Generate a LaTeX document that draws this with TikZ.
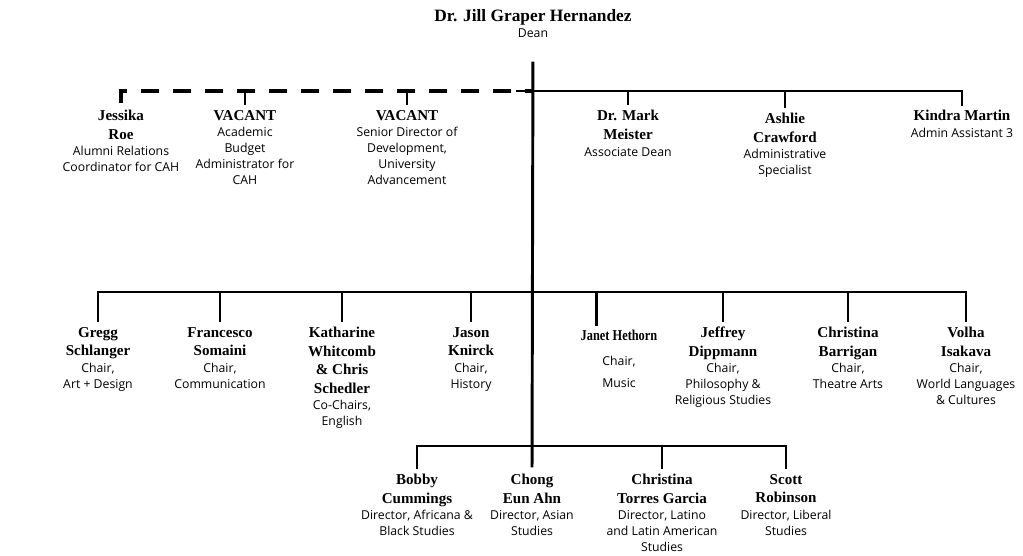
\documentclass[tikz,border=0pt]{standalone}
\usepackage{fontspec}
\setmainfont{Liberation Serif}
\newfontfamily\postfont{Open Sans}
\usetikzlibrary{positioning}
\tikzset{%
personnode/.style={align=center, inner sep=0pt, text depth=0pt, anchor=north, font=\bfseries\fontsize{11.3}{13.9}\selectfont},
postnode/.style={align=center, inner sep=0pt, font=\postfont\fontsize{9.2}{12}\selectfont},
bar/.style={draw=black, line width=2.2pt},
drop/.style={bar, shorten <=4pt},
vacantline/.style={draw=black, line width=3pt, dash pattern=on 13.5pt off 10.5pt, shorten <=5pt}
}
\begin{document}
\begin{tikzpicture}[x=0.75pt, y=-0.75pt]
	\useasboundingbox (0,0) rectangle (1023,556);
	% dean
	\node[personnode, font=\bfseries\fontsize{13}{15}\selectfont] (dean) at (533,9) {Dr. Jill Graper Hernandez};
	\node[postnode] (deanpost) [below=5pt of dean] {Dean};
	\coordinate (top) at (533,91);
	\coordinate (mid) at (533,292);
	\coordinate (low) at (533,446);

	% staff row
	\node[personnode] (jessika) at (121,110) {Jessika\\Roe};
	\node[postnode] (jessikapost) [below=5pt of jessika] {Alumni Relations\\Coordinator for CAH};
	\node[personnode] (budget) at (245,110) {VACANT};
	\node[postnode] (budgetpost) [below=5pt of budget] {Academic\\Budget\\Administrator for\\CAH};
	\node[personnode] (devel) at (407,110) {VACANT};
	\node[postnode] (develpost) [below=5pt of devel] {Senior Director of\\Development,\\University\\Advancement};
	\node[personnode] (mark) at (628,110) {Dr. Mark\\Meister};
	\node[postnode] (markpost) [below=6pt of mark] {Associate Dean};
	\node[personnode] (ashlie) at (785,113) {Ashlie\\Crawford};
	\node[postnode] (ashliepost) [below=5pt of ashlie] {Administrative\\Specialist};
	\node[personnode] (kindra) at (962,110) {Kindra Martin};
	\node[postnode] (kindrapost) [below=5pt of kindra] {Admin Assistant 3};

	% chairs row
	\node[personnode] (gregg) at (98,327) {Gregg\\Schlanger};
	\node[postnode] (greggpost) [below=5pt of gregg] {Chair,\\Art + Design};
	\node[personnode] (francesco) at (220,327) {Francesco\\Somaini};
	\node[postnode] (francescopost) [below=5pt of francesco] {Chair,\\Communication};
	\node[personnode] (katharine) at (342,327) {Katharine\\Whitcomb\\\& Chris\\Schedler};
	\node[postnode] (katharinepost) [below=5pt of katharine] {Co-Chairs,\\English};
	\node[personnode] (jason) at (471,327) {Jason\\Knirck};
	\node[postnode] (jasonpost) [below=5pt of jason] {Chair,\\History};
	\node[personnode] (janet) at (619,330) {\scalebox{0.82}[1]{Janet Hethorn}};
	\node[postnode] (janetpost) [below=11pt of janet] {Chair,\\[4.5pt]Music};
	\node[personnode] (jeffrey) at (723,327) {Jeffrey\\Dippmann};
	\node[postnode] (jeffreypost) [below=5pt of jeffrey] {Chair,\\Philosophy \&\\Religious Studies};
	\node[personnode] (barrigan) at (848,327) {Christina\\Barrigan};
	\node[postnode] (barriganpost) [below=5pt of barrigan] {Chair,\\Theatre Arts};
	\node[personnode] (volha) at (966,327) {Volha\\Isakava};
	\node[postnode] (volhapost) [below=5pt of volha] {Chair,\\World Languages\\\& Cultures};

	% directors row
	\node[personnode] (bobby) at (417,474) {Bobby\\Cummings};
	\node[postnode] (bobbypost) [below=5pt of bobby] {Director, Africana \&\\Black Studies};
	\node[personnode] (chong) at (532,474) {Chong\\Eun Ahn};
	\node[postnode] (chongpost) [below=5pt of chong] {Director, Asian\\Studies};
	\node[personnode] (torres) at (662,474) {Christina\\Torres Garcia};
	\node[postnode] (torrespost) [below=5pt of torres] {Director, Latino\\and Latin American\\Studies};
	\node[personnode] (scott) at (786,474) {Scott\\Robinson};
	\node[postnode] (scottpost) [below=5pt of scott] {Director, Liberal\\Studies};

	% lines
	\draw[bar, shorten <=18pt, shorten >=5pt] (deanpost.south) -- (chong.north);
	\draw[vacantline] (jessika.north) |- (top);
	\draw[drop] (budget.north) -- (budget.north |- top);
	\draw[drop] (devel.north) -- (devel.north |- top);
	\draw[bar, shorten >=3pt] ([xshift=-13pt]top) -| (kindra.north);
	\draw[drop] (mark.north) -- (mark.north |- top);
	\draw[drop] (ashlie.north) -- (ashlie.north |- top);

	\draw[bar, shorten <=4pt, shorten >=4pt] (gregg.north) |- (mid) -| (volha.north);
	\foreach \n in {francesco,katharine,jason,jeffrey,barrigan}
		\draw[drop] (\n.north) -- (\n.north |- mid);
	\draw[bar] ([xshift=-17pt,yshift=3pt]janet.north) -- ([xshift=-17pt]janet.north |- mid);

	\draw[bar, shorten <=4pt, shorten >=4pt] (bobby.north) |- (low) -| (scott.north);
	\draw[drop] (torres.north) -- (torres.north |- low);
\end{tikzpicture}
\end{document}
